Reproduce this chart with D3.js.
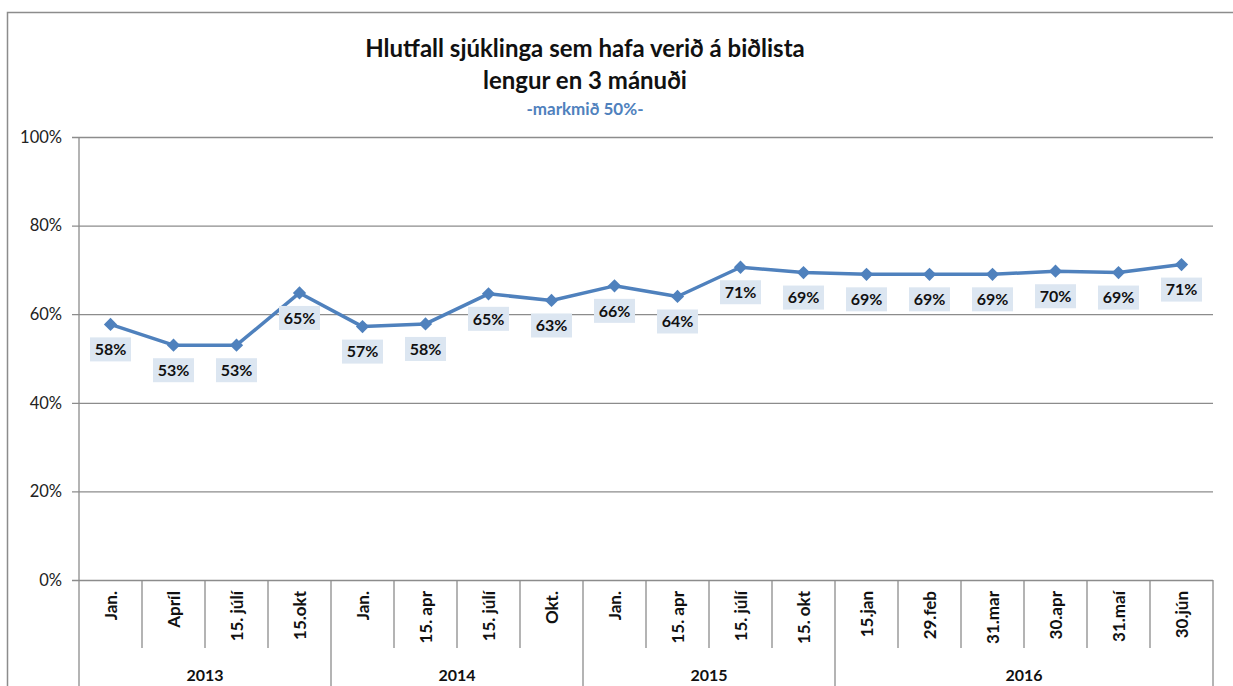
<!DOCTYPE html>
<head>
  <style>
    body { margin: 0; background: #fff; overflow: hidden; }
    text { font-family: Lato, "Open Sans", sans-serif; }
  </style>
  <script src="https://d3js.org/d3.v7.min.js"></script>
</head>
<body>
<div class="home"></div>
<script>
    // data
    const categories = ["Jan.", "Apríl", "15. júlí", "15.okt", "Jan.", "15. apr", "15. júlí", "Okt.",
        "Jan.", "15. apr", "15. júlí", "15. okt", "15.jan", "29.feb", "31.mar", "30.apr", "31.maí", "30.jún"];
    const years = ["2013", "2013", "2013", "2013", "2014", "2014", "2014", "2014",
        "2015", "2015", "2015", "2015", "2016", "2016", "2016", "2016", "2016", "2016"];
    const values = [0.577, 0.530, 0.530, 0.648, 0.572, 0.578, 0.646, 0.631, 0.664, 0.640,
        0.706, 0.694, 0.690, 0.690, 0.690, 0.697, 0.694, 0.712];
    const yTicks = [0, 0.2, 0.4, 0.6, 0.8, 1];

    const width = 1233, height = 686;
    const plot = {left: 79, right: 1213, top: 137, bottom: 580};
    const blue = "#4f81bd";

    const svg = d3.select(".home").append("svg")
        .attr("width", width)
        .attr("height", height)
        .style("display", "block");

    // outer chart frame (right/bottom edges fall outside the picture)
    svg.append("rect")
        .attr("x", 7.5).attr("y", 12.5)
        .attr("width", 1260).attr("height", 700)
        .attr("fill", "none").attr("stroke", "#8c8c8c").attr("stroke-width", 1.5);

    // title
    svg.append("text").attr("x", 585).attr("y", 57).attr("text-anchor", "middle")
        .attr("font-size", 24).attr("font-weight", "bold").attr("fill", "#111")
        .text("Hlutfall sjúklinga sem hafa verið á biðlista");
    svg.append("text").attr("x", 585).attr("y", 89).attr("text-anchor", "middle")
        .attr("font-size", 24).attr("font-weight", "bold").attr("fill", "#111")
        .text("lengur en 3 mánuði");
    svg.append("text").attr("x", 585).attr("y", 115).attr("text-anchor", "middle")
        .attr("font-size", 17).attr("font-weight", "bold").attr("fill", blue)
        .text("-markmið 50%-");

    const x = d3.scaleBand().domain(d3.range(categories.length)).range([plot.left, plot.right]);
    const y = d3.scaleLinear().domain([0, 1]).range([plot.bottom, plot.top]);

    // gridlines + y axis
    const yAxis = svg.append("g")
        .attr("transform", `translate(${plot.left},0)`)
        .call(d3.axisLeft(y).tickValues(yTicks).tickFormat(d3.format(".0%"))
            .tickSize(-(plot.right - plot.left)).tickSizeOuter(0).tickPadding(17));
    yAxis.select(".domain").remove();
    yAxis.selectAll(".tick line").attr("stroke", "#8c8c8c").attr("stroke-width", 1.3).attr("x1", -7);
    yAxis.selectAll(".tick text").attr("font-size", 16.5).attr("fill", "#222")
        .attr("font-family", "Lato, 'Open Sans', sans-serif");

    // left axis line
    svg.append("line").attr("x1", plot.left).attr("x2", plot.left).attr("y1", plot.top).attr("y2", height)
        .attr("stroke", "#8c8c8c").attr("stroke-width", 1.3);

    // category dividers
    const n = categories.length;
    svg.selectAll(".div").data(d3.range(1, n + 1)).enter().append("line")
        .attr("x1", i => i < n ? x(i) : plot.right)
        .attr("x2", i => i < n ? x(i) : plot.right)
        .attr("y1", plot.bottom)
        .attr("y2", i => (i === n || years[i] !== years[i - 1]) ? height : 648)
        .attr("stroke", "#8c8c8c").attr("stroke-width", 1.3);

    // category labels
    svg.selectAll(".cat").data(categories).enter().append("text")
        .attr("transform", (d, i) => `translate(${x(i) + x.bandwidth() / 2 + 6},591) rotate(-90)`)
        .attr("text-anchor", "end")
        .attr("font-size", 17).attr("font-weight", "bold").attr("fill", "#111")
        .text(d => d);

    // year labels
    const yearGroups = d3.groups(years.map((yr, i) => ({yr, i})), d => d.yr);
    svg.selectAll(".yr").data(yearGroups).enter().append("text")
        .attr("x", g => (x(g[1][0].i) + x(g[1][g[1].length - 1].i) + x.bandwidth()) / 2)
        .attr("y", 681)
        .attr("text-anchor", "middle")
        .attr("font-size", 16).attr("font-weight", "bold").attr("fill", "#111")
        .text(g => g[0]);

    const cx = i => x(i) + x.bandwidth() / 2;

    // line
    svg.append("path")
        .datum(values)
        .attr("fill", "none").attr("stroke", blue).attr("stroke-width", 3.5)
        .attr("stroke-linejoin", "round")
        .attr("d", d3.line().x((d, i) => cx(i)).y(d => y(d)));

    // markers
    svg.selectAll(".mk").data(values).enter().append("path")
        .attr("d", d3.symbol(d3.symbolSquare, 88))
        .attr("transform", (d, i) => `translate(${cx(i)},${y(d)}) rotate(45)`)
        .attr("fill", blue);

    // data labels
    const lbl = svg.selectAll(".lbl").data(values).enter().append("g")
        .attr("transform", (d, i) => `translate(${cx(i)},${y(d) + 25})`);
    lbl.append("rect")
        .attr("x", -20.5).attr("y", -12).attr("width", 41).attr("height", 24)
        .attr("fill", "#dce6f1");
    lbl.append("text")
        .attr("text-anchor", "middle").attr("dy", "0.36em")
        .attr("font-size", 16).attr("font-weight", "bold").attr("fill", "#111")
        .text(d => d3.format(".0%")(d));
</script>
</body>
